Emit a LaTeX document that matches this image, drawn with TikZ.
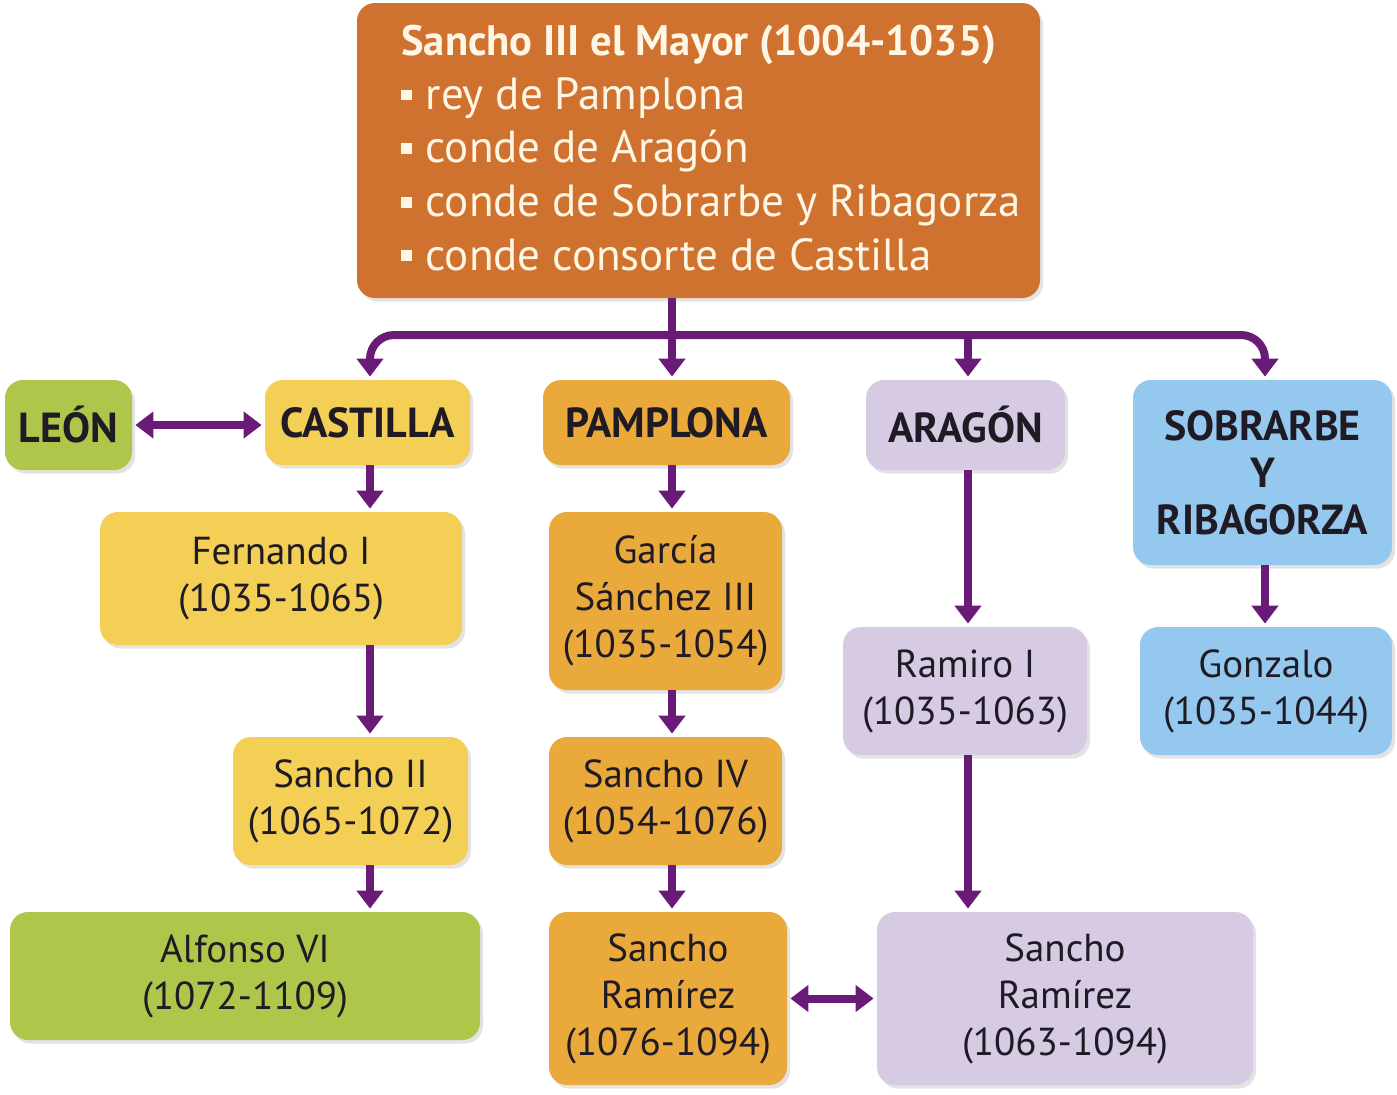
\documentclass[tikz,border=0pt]{standalone}
\usepackage{fontspec}
\setmainfont{PT Sans}
\usetikzlibrary{arrows.meta,shadows}
\definecolor{topor}{HTML}{D0722F}
\definecolor{grn}{HTML}{AEC64A}
\definecolor{yel}{HTML}{F4CF55}
\definecolor{pam}{HTML}{E9A93B}
\definecolor{lav}{HTML}{D6CBE3}
\definecolor{blu}{HTML}{94C8EE}
\definecolor{arr}{HTML}{6A1B78}
\definecolor{txt}{HTML}{1F1A24}
\definecolor{cream}{HTML}{FFF6E6}
\newcommand{\bul}{\rule[0.2em]{0.24em}{0.24em}\hspace{0.3em}}
\begin{document}
\begin{tikzpicture}[x=0.5pt,y=-0.5pt,
  box/.style={rounded corners=9pt, align=center, text=txt, inner sep=2pt,
    font=\fontsize{19.5}{23.5}\selectfont,
    drop shadow={opacity=0.22,shadow xshift=1.5pt,shadow yshift=-1.8pt}},
  ttl/.style={box, font=\bfseries\fontsize{21}{23.5}\selectfont},
  link/.style={draw=arr, line width=4pt, -{Triangle[width=13pt,length=9pt]}, shorten >=1.5pt},
  dlink/.style={draw=arr, line width=4pt, {Triangle[width=13pt,length=9pt]}-{Triangle[width=13pt,length=9pt]}, shorten >=1.5pt, shorten <=1.5pt},
  plain/.style={draw=arr, line width=4pt}
]
\fill[white] (0,0) rectangle (1397,1094);
\useasboundingbox (0,0) rectangle (1397,1094);

% columns
\coordinate (cC) at (370,0);
\coordinate (cP) at (672,0);
\coordinate (cA) at (968,0);
\coordinate (cS) at (1265,0);
\coordinate (bar) at (0,335);

\node[box, fill=topor, minimum width=341.5pt, minimum height=147.5pt] (top) at (698.5,150.5) {};
\node[align=left, text=cream, inner sep=0pt, anchor=west,
  font=\fontsize{22.5}{26.8}\selectfont] (toptext) at (401,148)
  {{\bfseries\fontsize{21.3}{26.8}\selectfont Sancho III el Mayor (1004-1035)}\\
   \bul rey de Pamplona\\
   \bul conde de Aragón\\
   \bul conde de Sobrarbe y Ribagorza\\
   \bul conde consorte de Castilla};

\node[ttl, fill=grn, minimum width=63.5pt, minimum height=45pt] (leon) at (68.5,425) {LEÓN};
\node[ttl, fill=yel, minimum width=102.5pt, minimum height=42.5pt] (castilla) at (367.5,422.5) {CASTILLA};
\node[ttl, fill=pam, minimum width=123.5pt, minimum height=42.5pt] (pamplona) at (666.5,422.5) {PAMPLONA};
\node[ttl, fill=lav, minimum width=99.5pt, minimum height=45pt] (aragon) at (965.5,425) {ARAGÓN};
\node[ttl, fill=blu, minimum width=129.5pt, minimum height=92.5pt] (sobrarbe) at (1262.5,472.5) {SOBRARBE\\Y\\RIBAGORZA};

\node[box, fill=yel, minimum width=181pt, minimum height=66.5pt] (fernando) at (281,578.5) {Fernando I\\(1035-1065)};
\node[box, fill=pam, minimum width=116.5pt, minimum height=89pt] (garcia) at (665.5,601) {García\\Sánchez III\\(1035-1054)};
\node[box, fill=lav, minimum width=122pt, minimum height=64pt] (ramiro) at (965,691) {Ramiro I\\(1035-1063)};
\node[box, fill=blu, minimum width=126pt, minimum height=64pt] (gonzalo) at (1266,691) {Gonzalo\\(1035-1044)};
\node[box, fill=yel, minimum width=117.5pt, minimum height=64pt] (sanchoii) at (350.5,801) {Sancho II\\(1065-1072)};
\node[box, fill=pam, minimum width=116.5pt, minimum height=64pt] (sanchoiv) at (665.5,801) {Sancho IV\\(1054-1076)};
\node[box, fill=grn, minimum width=235pt, minimum height=64pt] (alfonso) at (245,976) {Alfonso VI\\(1072-1109)};
\node[box, fill=pam, minimum width=119pt, minimum height=86.5pt] (srp) at (668,998.5) {Sancho\\Ramírez\\(1076-1094)};
\node[box, fill=lav, minimum width=188pt, minimum height=86.5pt] (sra) at (1065,998.5) {Sancho\\Ramírez\\(1063-1094)};

% branch from top
\draw[plain] (top.south -| cP) -- (bar -| cP);
\draw[link, rounded corners=12pt] (bar -| cP) -- (bar -| cC) -- (castilla.north -| cC);
\draw[link, rounded corners=12pt] (bar -| cP) -- (bar -| cS) -- (sobrarbe.north -| cS);
\draw[link] (bar -| cP) -- (pamplona.north -| cP);
\draw[link] (bar -| cA) -- (aragon.north -| cA);

% Castilla column
\draw[dlink] (leon.east) -- (leon.east -| castilla.west);
\draw[link] (castilla.south -| cC) -- (fernando.north -| cC);
\draw[link] (fernando.south -| cC) -- (sanchoii.north -| cC);
\draw[link] (sanchoii.south -| cC) -- (alfonso.north -| cC);

% Pamplona column
\draw[link] (pamplona.south -| cP) -- (garcia.north -| cP);
\draw[link] (garcia.south -| cP) -- (sanchoiv.north -| cP);
\draw[link] (sanchoiv.south -| cP) -- (srp.north -| cP);

% Aragon column
\draw[link] (aragon.south -| cA) -- (ramiro.north -| cA);
\draw[link] (ramiro.south -| cA) -- (sra.north -| cA);

% Sobrarbe
\draw[link] (sobrarbe.south -| cS) -- (gonzalo.north -| cS);

\draw[dlink] (srp.east) -- (sra.west);
\end{tikzpicture}
\end{document}
